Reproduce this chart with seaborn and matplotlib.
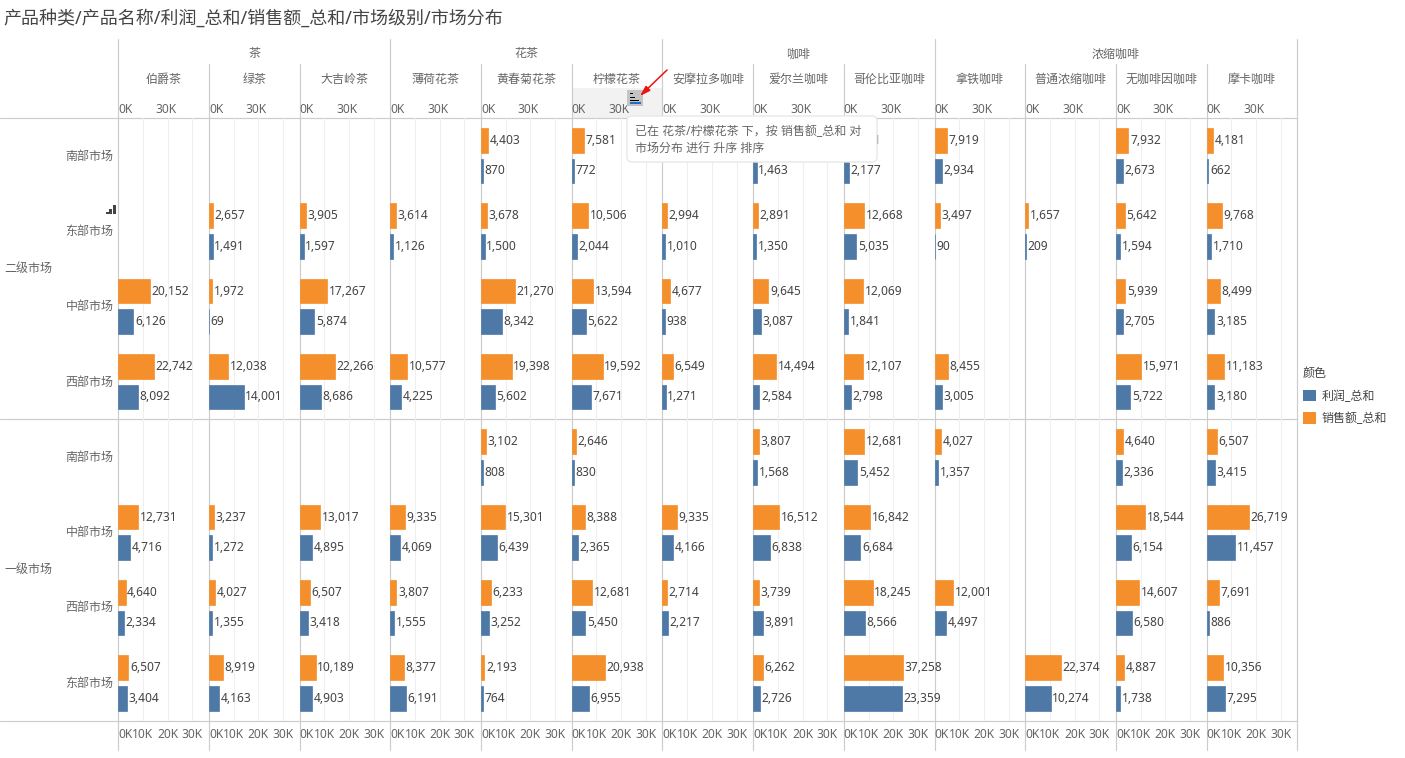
import numpy as np
import pandas as pd
import seaborn as sns
import matplotlib
matplotlib.use("Agg")
import matplotlib.pyplot as plt
from matplotlib.patches import Patch, Rectangle, FancyBboxPatch
from matplotlib.ticker import FuncFormatter
from matplotlib.transforms import ScaledTranslation

W, H = 1405, 758
N = np.nan

categories = ["茶", "花茶", "咖啡", "浓缩咖啡"]
category_spans = [3, 3, 3, 4]
products = ["伯爵茶", "绿茶", "大吉岭茶", "薄荷花茶", "黄春菊花茶", "柠檬花茶", "安摩拉多咖啡",
            "爱尔兰咖啡", "哥伦比亚咖啡", "拿铁咖啡", "普通浓缩咖啡", "无咖啡因咖啡", "摩卡咖啡"]
row_keys = ["二级南部", "二级东部", "二级中部", "二级西部", "一级南部", "一级中部", "一级西部", "一级东部"]
row_labels = ["南部市场", "东部市场", "中部市场", "西部市场", "南部市场", "中部市场", "西部市场", "东部市场"]
levels = ["二级市场", "一级市场"]

sales_values = [
    [N, N, 20152, 22742, N, 12731, 4640, 6507],
    [N, 2657, 1972, 12038, N, 3237, 4027, 8919],
    [N, 3905, 17267, 22266, N, 13017, 6507, 10189],
    [N, 3614, N, 10577, N, 9335, 3807, 8377],
    [4403, 3678, 21270, 19398, 3102, 15301, 6233, 2193],
    [7581, 10506, 13594, 19592, 2646, 8388, 12681, 20938],
    [N, 2994, 4677, 6549, N, 9335, 2714, N],
    [N, 2891, 9645, 14494, 3807, 16512, 3739, 6262],
    [3341, 12668, 12069, 12107, 12681, 16842, 18245, 37258],
    [7919, 3497, N, 8455, 4027, N, 12001, N],
    [N, 1657, N, N, N, N, N, 22374],
    [7932, 5642, 5939, 15971, 4640, 18544, 14607, 4887],
    [4181, 9768, 8499, 11183, 6507, 26719, 7691, 10356],
]
profit_values = [
    [N, N, 6126, 8092, N, 4716, 2334, 3404],
    [N, 1491, 69, 14001, N, 1272, 1355, 4163],
    [N, 1597, 5874, 8686, N, 4895, 3418, 4903],
    [N, 1126, N, 4225, N, 4069, 1555, 6191],
    [870, 1500, 8342, 5602, 808, 6439, 3252, 764],
    [772, 2044, 5622, 7671, 830, 2365, 5450, 6955],
    [N, 1010, 938, 1271, N, 4166, 2217, N],
    [1463, 1350, 3087, 2584, 1568, 6838, 3891, 2726],
    [2177, 5035, 1841, 2798, 5452, 6684, 8566, 23359],
    [2934, 90, N, 3005, 1357, N, 4497, N],
    [N, 209, N, N, N, N, N, 10274],
    [2673, 1594, 2705, 5722, 2336, 6154, 6580, 1738],
    [662, 1710, 3185, 3180, 3415, 11457, 886, 7295],
]
sales_name, profit_name = "销售额_总和", "利润_总和"
ORANGE, BLUE = "#F58F2C", "#4E79A7"
TXT, LINE, GRID = "#666666", "#CCCCCC", "#EFEFEF"

sns.set_theme(style="white")
plt.rcParams["font.family"] = ["Noto Sans", "Noto Sans CJK SC", "DejaVu Sans"]
plt.rcParams["font.size"] = 8.64
FS = 8.64

rows = []
for p, sv, pv in zip(products, sales_values, profit_values):
    for r, s, q in zip(row_keys, sv, pv):
        rows.append((p, r, sales_name, s))
        rows.append((p, r, profit_name, q))
df = pd.DataFrame(rows, columns=["product", "row", "series", "value"])

fig = plt.figure(figsize=(W / 100, H / 100), dpi=100, facecolor="white")


def fx(x):
    return x / W


def fy(y):
    return 1 - y / H


# layout in pixels
X0, X1, Y0, Y1 = 118.2, 1297.3, 118.0, 720.6
col_w = (X1 - X0) / len(products)
col_x = [X0 + i * col_w for i in range(len(products) + 1)]
MAX_PROFIT, MAX_SALES = 36700, 57300

# background layer
bg = fig.add_axes([0, 0, 1, 1], zorder=-1)
bg.set_xlim(0, W)
bg.set_ylim(H, 0)
bg.axis("off")
bg.add_patch(Rectangle((col_x[5], 88), col_w, 30, fc="#F2F2F2", ec="none"))
for y in (Y0, (Y0 + Y1) / 2 - 0.8, Y1):
    bg.plot([0, X1], [y, y], color=LINE, lw=0.85)
start = 0
cat_idx = {0}
for s in category_spans:
    start += s
    cat_idx.add(start)
for i, x in enumerate(col_x):
    bg.plot([x, x], [39 if i in cat_idx else 64, 750], color=LINE, lw=0.85)

start = 0
for c, s in zip(categories, category_spans):
    bg.text((col_x[start] + col_x[start + s]) / 2, 54, c, ha="center", va="center", color=TXT, fontsize=FS)
    start += s
for i, p in enumerate(products):
    bg.text(col_x[i] + col_w / 2, 79, p, ha="center", va="center", color=TXT, fontsize=FS)
bg.text(28, 268.5, levels[0], ha="center", va="center", color=TXT, fontsize=FS)
bg.text(28, 569.5, levels[1], ha="center", va="center", color=TXT, fontsize=FS)
bg.text(3, 18.5, "产品种类/产品名称/利润_总和/销售额_总和/市场级别/市场分布", ha="left", va="center",
        color="#444444", fontsize=12.96)

k_fmt = FuncFormatter(lambda v, _: f"{v / 1000:.0f}K")
pad = 1.2


def draw(ax, sub, name, color, vmax):
    sns.barplot(data=sub[sub["series"] == name], x="value", y="row", hue="series",
                hue_order=[sales_name, profit_name], order=row_keys,
                palette={sales_name: ORANGE, profit_name: BLUE}, orient="h",
                width=0.81, gap=0.19, dodge=True, legend=False, errorbar=None,
                saturation=1, ax=ax)
    ax.set_xlim(0, vmax)
    for bar in ax.patches:
        w = bar.get_width()
        if np.isfinite(w):
            bar.set_edgecolor(color)
            bar.set_linewidth(0.5)
            ax.annotate(f"{w:,.0f}", (w, bar.get_y() + bar.get_height() / 2),
                        xytext=(pad, 0), textcoords="offset points", ha="left", va="center",
                        color="#444444", fontsize=FS, annotation_clip=False, zorder=5)


for i, p in enumerate(products):
    ax = fig.add_axes([fx(col_x[i]), fy(Y1), col_w / W, (Y1 - Y0) / H], zorder=1 + i)
    ax.patch.set_visible(False)
    sub = df[df["product"] == p]
    top = ax.twiny()
    top.patch.set_visible(False)
    draw(ax, sub, profit_name, BLUE, MAX_PROFIT)
    draw(top, sub, sales_name, ORANGE, MAX_SALES)
    ax.set_ylim(len(row_keys) - 0.5, -0.5)
    for a in (ax, top):
        for sp in a.spines.values():
            sp.set_visible(False)
        a.set_xlabel("")
        a.set_ylabel("")
    ax.set_xticks([0, 10000, 20000, 30000])
    ax.xaxis.set_major_formatter(k_fmt)
    ax.tick_params(axis="x", bottom=False, length=0, labelsize=FS, labelcolor=TXT, pad=5.0)
    top.set_xticks([0, 30000])
    top.xaxis.set_major_formatter(k_fmt)
    top.tick_params(axis="x", top=False, length=0, labelsize=FS, labelcolor=TXT, pad=1.4)
    ax.grid(axis="x", color=GRID, lw=0.8)
    ax.xaxis.get_gridlines()[0].set_visible(False)
    ax.set_axisbelow(True)
    ax.get_xticklabels()[0].set_ha("left")
    top.get_xticklabels()[0].set_ha("left")
    top.yaxis.set_visible(False)
    ax.tick_params(axis="y", left=False, length=0)
    if i == 0:
        ax.set_yticks(range(len(row_labels)))
        ax.set_yticklabels(row_labels, color=TXT, fontsize=FS)
        ax.tick_params(axis="y", pad=3.4)
        for lab in ax.get_yticklabels():
            lab.set_transform(lab.get_transform() + ScaledTranslation(0, 1.2 / 100, fig.dpi_scale_trans))
    else:
        ax.tick_params(axis="y", labelleft=False)

# overlay layer: tooltip, sort icon, arrow, small icon
ov = fig.add_axes([0, 0, 1, 1], zorder=50)
ov.set_xlim(0, W)
ov.set_ylim(H, 0)
ov.axis("off")
ov.add_patch(FancyBboxPatch((630, 119), 244, 40, boxstyle="round,pad=3,rounding_size=5",
                            fc="white", ec="#E8E8E8", lw=1))
ov.text(635, 131.5, "已在 花茶/柠檬花茶 下，按 销售额_总和 对", ha="left", va="center", color=TXT, fontsize=FS)
ov.text(635, 148.5, "市场分布 进行 升序 排序", ha="left", va="center", color=TXT, fontsize=FS)
ov.add_patch(Rectangle((627, 90), 16, 16, fc="#C4C4C4", ec="none"))
for y0, x0, c in [(93, 3, "black"), (97, 5, "black"), (100, 9, "black"), (102.4, 11, "#1E6FC0")]:
    ov.add_patch(Rectangle((630, y0), x0, 1.4, fc=c, ec="none"))
ov.annotate("", xy=(640, 96), xytext=(667, 70),
            arrowprops=dict(arrowstyle="-|>,head_length=0.7,head_width=0.22", color="#F01010", lw=1.1,
                            shrinkA=0, shrinkB=0))
for x0, h in [(105.5, 2.5), (109, 5.5), (112.5, 9)]:
    ov.add_patch(Rectangle((x0, 214 - h), 3, h, fc="#444444", ec="none"))

leg = fig.legend(handles=[Patch(fc=BLUE, ec="none", label=profit_name), Patch(fc=ORANGE, ec="none", label=sales_name)],
                 title="颜色", loc="upper left", bbox_to_anchor=(fx(1303), fy(367)), frameon=False,
                 fontsize=FS, title_fontsize=FS, alignment="left", handlelength=1.1, handleheight=1.1,
                 handletextpad=0.45, labelspacing=0.8, borderpad=0, borderaxespad=0)
leg.get_title().set_color("#444444")
for t in leg.get_texts():
    t.set_color("#444444")

fig.savefig("out.png", dpi=100, facecolor="white")
